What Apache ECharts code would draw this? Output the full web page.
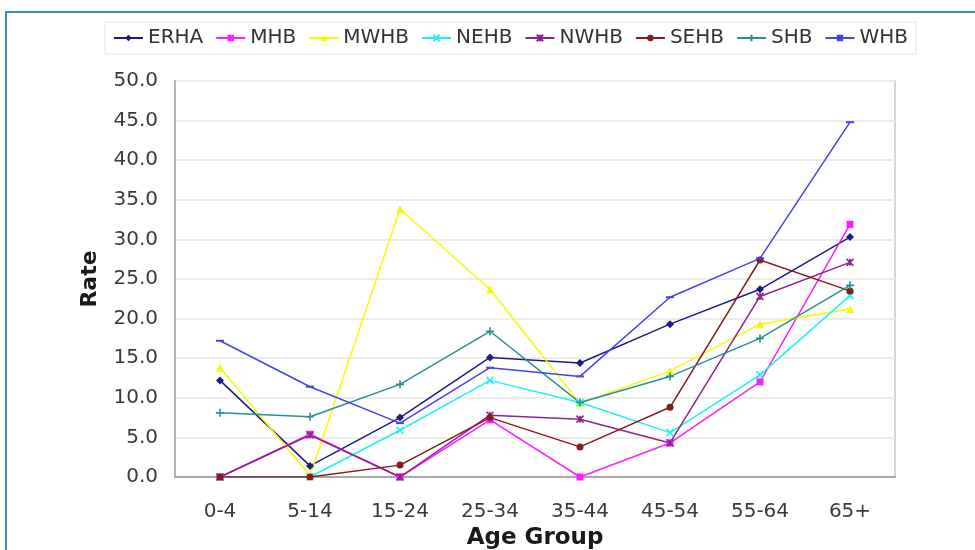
<!DOCTYPE html>
<html>
<head>
<meta charset="utf-8">
<script src="https://cdn.jsdelivr.net/npm/echarts@6/dist/echarts.min.js"></script>
<style>
  html, body { margin: 0; padding: 0; background: #ffffff; }
  #chart { width: 975px; height: 550px; }
</style>
</head>
<body>
<div id="chart"></div>
<script>
// Age groups along the x axis
const ageGroups = ['0-4', '5-14', '15-24', '25-34', '35-44', '45-54', '55-64', '65+'];

// Rates per health board
const erha = [12.2, 1.4, 7.5, 15.1, 14.4, 19.3, 23.7, 30.3];
const mhb  = [0.0, 5.4, 0.0, 7.2, 0.0, 4.3, 12.0, 31.9];
const mwhb = [13.8, 0.2, 33.8, 23.7, 9.3, 13.4, 19.3, 21.2];
const nehb = [0.0, 0.0, 5.9, 12.2, 9.4, 5.6, 12.9, 22.9];
const nwhb = [0.0, 5.3, 0.0, 7.8, 7.3, 4.3, 22.8, 27.1];
const sehb = [0.0, 0.0, 1.5, 7.5, 3.8, 8.8, 27.4, 23.5];
const shb  = [8.1, 7.6, 11.7, 18.4, 9.4, 12.7, 17.5, 24.2];
const whb  = [17.2, 11.4, 6.8, 13.8, 12.7, 22.7, 27.6, 44.8];

// Y axis ticks
const rateMin = 0;
const rateMax = 50;
const rateStep = 5;

const FONT = 'DejaVu Sans';

// Marker shapes in the classic spreadsheet order
const SYM_X = 'path://M0,0L10,10M10,0L0,10';
const SYM_STAR = 'path://M0,0L10,10M10,0L0,10M5,0L5,10';
const SYM_PLUS = 'path://M5,0L5,10M0,5L10,5';
const SYM_DASH = 'path://M0,0L10,0L10,2L0,2Z';

const seriesDefs = [
  { name: 'ERHA', data: erha, color: '#1c1c84', symbol: 'diamond', size: 8 },
  { name: 'MHB',  data: mhb,  color: '#ff1cff', symbol: 'rect', size: 7 },
  { name: 'MWHB', data: mwhb, color: '#f8f800', symbol: 'triangle', size: 8 },
  { name: 'NEHB', data: nehb, color: '#1cf2f2', symbol: SYM_X, size: 7, stroke: true },
  { name: 'NWHB', data: nwhb, color: '#8a268a', symbol: SYM_STAR, size: 7, stroke: true },
  { name: 'SEHB', data: sehb, color: '#861c1c', symbol: 'circle', size: 7 },
  { name: 'SHB',  data: shb,  color: '#2a9090', symbol: SYM_PLUS, size: 8, stroke: true },
  { name: 'WHB',  data: whb,  color: '#4343f2', symbol: SYM_DASH, size: [8, 2] }
];

const chart = echarts.init(document.getElementById('chart'), null, { renderer: 'canvas' });

chart.setOption({
  backgroundColor: '#ffffff',
  animation: false,
  graphic: [
    {
      type: 'rect',
      z: -10,
      shape: { x: 6, y: 12, width: 1100, height: 700 },
      style: { fill: 'none', stroke: '#3f87c6', lineWidth: 2 }
    }
  ],
  legend: {
    left: 105,
    top: 22,
    padding: [6, 8],
    itemGap: 12,
    itemWidth: 29,
    itemHeight: 8,
    borderColor: '#e4e4e4',
    borderWidth: 1,
    textStyle: { fontFamily: FONT, fontSize: 20, color: '#333333' },
    data: seriesDefs.map(s => s.name)
  },
  grid: {
    left: 175,
    right: 80,
    top: 81,
    bottom: 73,
    outerBoundsMode: 'none',
    containLabel: false,
    show: true,
    borderColor: '#d6d6d6',
    borderWidth: 2,
    backgroundColor: '#ffffff'
  },
  xAxis: {
    type: 'category',
    data: ageGroups,
    boundaryGap: true,
    name: 'Age Group',
    nameLocation: 'middle',
    nameGap: 50,
    nameTextStyle: { fontFamily: FONT, fontSize: 23, fontWeight: 'bold', color: '#1a1a1a' },
    axisLine: { show: true, lineStyle: { color: '#a8a8a8', width: 2 } },
    axisTick: { show: false },
    axisLabel: { fontFamily: FONT, fontSize: 20, color: '#3a3a3a', margin: 25 },
    splitLine: { show: false }
  },
  yAxis: {
    type: 'value',
    min: rateMin,
    max: rateMax,
    interval: rateStep,
    name: 'Rate',
    nameLocation: 'middle',
    nameGap: 74,
    nameRotate: 90,
    nameTextStyle: { fontFamily: FONT, fontSize: 22, fontWeight: 'bold', color: '#1a1a1a' },
    axisLine: { show: true, lineStyle: { color: '#b4b4b4', width: 2 } },
    axisTick: { show: false },
    axisLabel: {
      fontFamily: FONT, fontSize: 20, color: '#3a3a3a', margin: 17,
      formatter: v => v.toFixed(1)
    },
    splitLine: { show: true, lineStyle: { color: '#ececec', width: 2 } }
  },
  series: seriesDefs.map(s => ({
    name: s.name,
    type: 'line',
    data: s.data,
    symbol: s.symbol,
    symbolSize: s.size,
    showAllSymbol: true,
    lineStyle: { color: s.color, width: 1.5 },
    itemStyle: {
      color: s.color,
      borderColor: s.color,
      borderWidth: s.stroke ? 1.6 : 0
    },
    emphasis: { disabled: true }
  }))
});
</script>
</body>
</html>
